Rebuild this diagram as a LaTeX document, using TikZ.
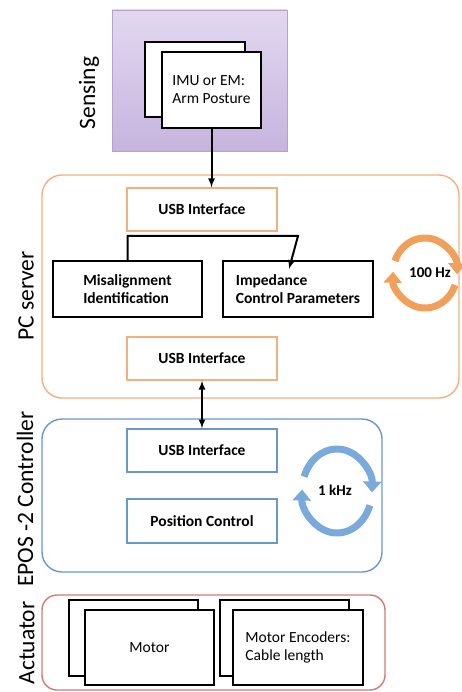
\documentclass[tikz,border=0pt]{standalone}
\usepackage{fontspec}
\setmainfont{Carlito}
\usetikzlibrary{arrows.meta}
\definecolor{pcorange}{RGB}{244,176,124}
\definecolor{arcorange}{RGB}{240,160,90}
\definecolor{eposblue}{RGB}{104,152,204}
\definecolor{arcblue}{RGB}{122,170,220}
\definecolor{actred}{RGB}{210,120,120}
\definecolor{senstop}{RGB}{226,216,240}
\definecolor{sensbot}{RGB}{198,180,222}
\definecolor{sensline}{RGB}{180,164,204}
\begin{document}
\begin{tikzpicture}[x=1pt,y=-1pt,
  lbl/.style={rotate=90,font=\fontsize{23.5}{26}\selectfont},
  usb/.style={draw,line width=1.4pt,minimum width=150pt,minimum height=43pt,font=\fontsize{15.5}{18}\selectfont\bfseries},
  blk/.style={draw,line width=2pt,minimum width=150pt,minimum height=56pt,align=left,font=\fontsize{15.5}{18}\selectfont\bfseries},
  card/.style={draw,fill=white,line width=1.2pt,minimum width=129pt,minimum height=75pt,align=left,font=\fontsize{15.5}{18}\selectfont},
  loop/.style={line width=7pt}]
\useasboundingbox (0,0) rectangle (461,692);
% sensing
\node[draw=sensline,top color=senstop,bottom color=sensbot,minimum width=175pt,minimum height=141pt] (sens) at (199.5,80.5) {};
\node[card,minimum width=100pt] (imub) at (195,79.5) {};
\node[card,minimum width=99pt,minimum height=76pt] (imuf) at (211.5,90) {IMU or EM:\\Arm Posture};
\node[lbl] (senslbl) at (89,93) {Sensing};
% pc server
\node[draw=pcorange,line width=1.4pt,rounded corners=20pt,minimum width=417pt,minimum height=223pt] (pc) at (250.5,286.5) {};
\node[lbl] (pclbl) at (26,296) {PC server};
\node[usb,draw=pcorange] (usba) at (202,209.5) {USB Interface};
\node[blk,minimum width=149pt] (mis) at (127.5,289) {Misalignment\\Identification};
\node[blk] (imp) at (298,289) {Impedance\\Control Parameters};
\node[usb,draw=pcorange] (usbb) at (202,358.5) {USB Interface};
\node[font=\fontsize{15}{18}\selectfont\bfseries] (hz) at (430,273) {100 Hz};
\draw[loop,arcorange,-{Triangle[width=18pt,length=11pt]}] (425,273) ++(200:32 and 35) arc[start angle=200,end angle=362,x radius=32,y radius=35];
\draw[loop,arcorange,-{Triangle[width=18pt,length=11pt]}] (425,273) ++(20:32 and 35) arc[start angle=20,end angle=182,x radius=32,y radius=35];
% epos
\node[draw=eposblue,line width=1.4pt,rounded corners=20pt,minimum width=340pt,minimum height=153pt] (epos) at (212,495.5) {};
\node[lbl] (eposlbl) at (25,499) {EPOS -2 Controller};
\node[usb,draw=eposblue] (usbc) at (202,450.5) {USB Interface};
\node[usb,draw=eposblue,minimum height=44pt] (pos) at (202,521) {Position Control};
\node[font=\fontsize{15}{18}\selectfont\bfseries] (khz) at (335,490) {1 kHz};
\draw[loop,arcblue,-{Triangle[width=18pt,length=11pt]}] (337,491) ++(200:35 and 42) arc[start angle=200,end angle=362,x radius=35,y radius=42];
\draw[loop,arcblue,-{Triangle[width=18pt,length=11pt]}] (337,491) ++(20:35 and 42) arc[start angle=20,end angle=182,x radius=35,y radius=42];
% actuator
\node[draw=actred,line width=1.4pt,rounded corners=15pt,minimum width=343pt,minimum height=95pt] (act) at (213.5,642.5) {};
\node[lbl] (actlbl) at (27,643) {Actuator};
\node[card,minimum height=76pt] (motb) at (133.5,638) {};
\node[card] (motf) at (149.5,647.5) {Motor};
\node[card,minimum height=76pt] (encb) at (284.5,638) {};
\node[card,minimum width=130pt] (encf) at (298,647.5) {Motor Encoders:\\Cable length};
% arrows
\coordinate (bend) at (298,236);
\coordinate (impin) at (289,269);
\draw[->,>=latex,line width=2pt] (imuf.south) -- (imuf.south |- usba.north);
\draw[->,>=latex,line width=2pt] (mis.north) |- (bend) -- (impin);
\draw[<->,>=latex,line width=2pt] (usbb.south) -- (usbc.north);
\end{tikzpicture}
\end{document}
